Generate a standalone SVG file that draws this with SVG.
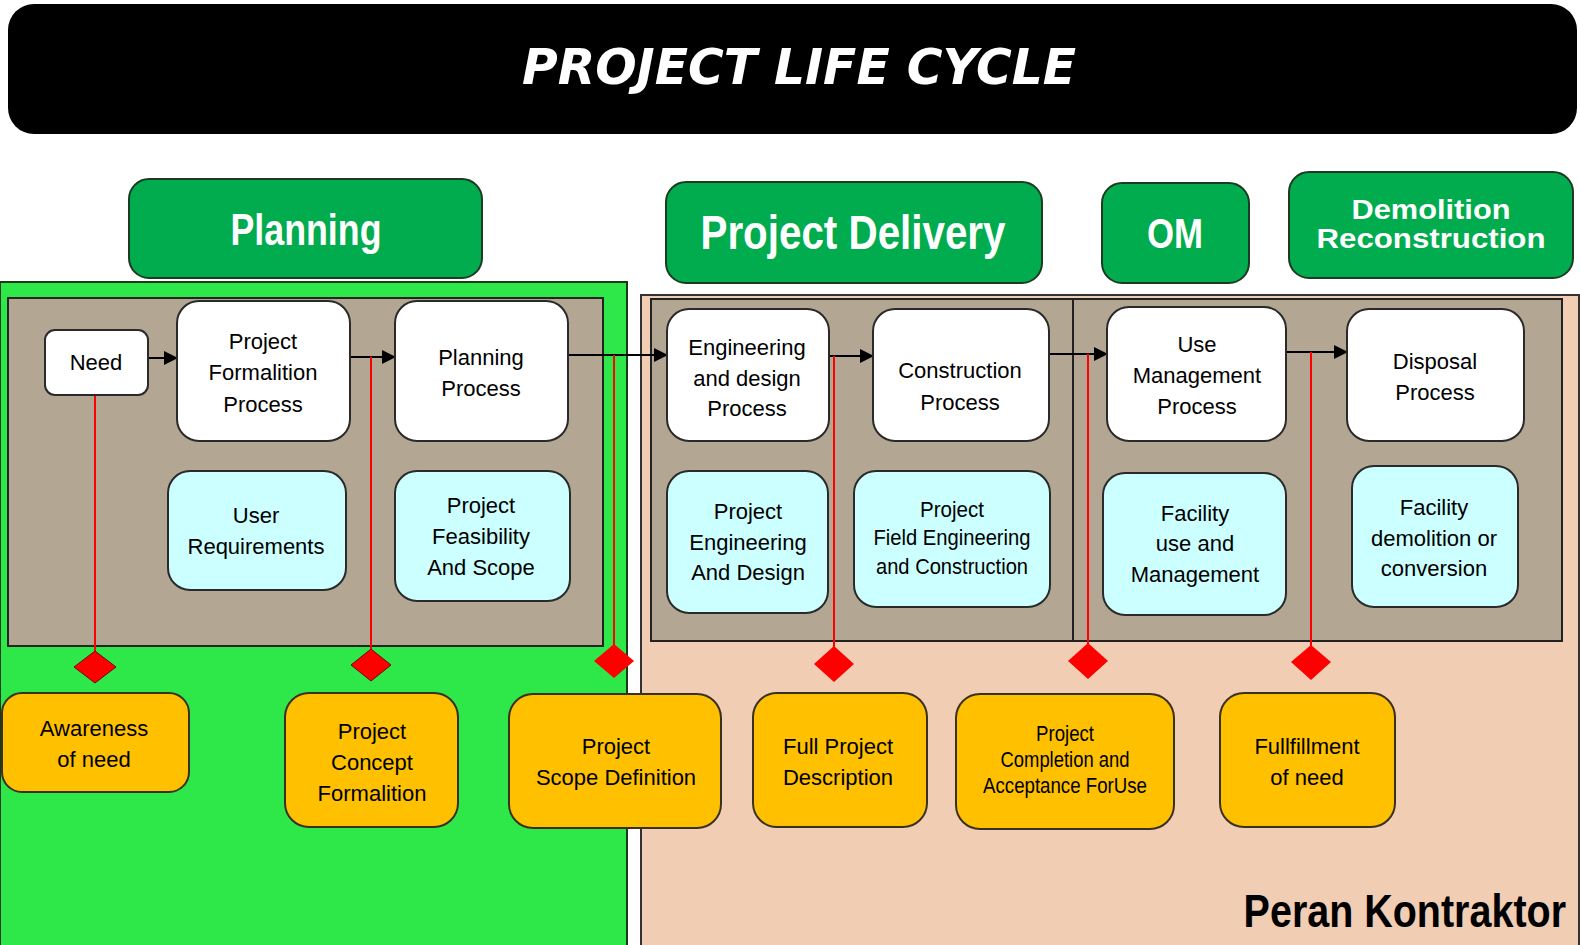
<svg xmlns="http://www.w3.org/2000/svg" width="1580" height="945" viewBox="0 0 1580 945">
<defs>
<style>
.hdr{fill:#00AC4E;stroke:#1d3a22;stroke-width:2}
.hdrt{fill:#ffffff;font-family:"Liberation Sans",Arial,sans-serif;font-weight:bold;text-anchor:middle}
.wn{fill:#ffffff;stroke:#2a2a2a;stroke-width:2}
.cn{fill:#CCFFFF;stroke:#2a2a2a;stroke-width:2}
.on{fill:#FFC000;stroke:#3a3020;stroke-width:2}
.t{font-family:"Liberation Sans",Arial,sans-serif;font-size:22px;fill:#000;text-anchor:middle}
.red{stroke:#FF0000;stroke-width:2;fill:none}
.blk{stroke:#000;stroke-width:2;fill:none}
.dia{fill:#FF0000}
</style>
<marker id="ah" viewBox="0 0 14 14" refX="13" refY="7" markerWidth="14" markerHeight="14" markerUnits="userSpaceOnUse" orient="auto">
<path d="M0,0 L14,7 L0,14 Z" fill="#000"/>
</marker>
</defs>
<rect width="1580" height="945" fill="#ffffff"/>

<!-- Title -->
<g id="title">
<rect x="8" y="4" width="1569" height="130" rx="26" fill="#000"/>
<text x="799" y="84" font-family="'DejaVu Sans',Verdana,sans-serif" font-weight="bold" font-style="italic" font-size="50" fill="#fff" text-anchor="middle" textLength="554" lengthAdjust="spacingAndGlyphs">PROJECT LIFE CYCLE</text>
</g>

<!-- Regions -->
<g id="region-planning">
<rect x="0" y="282" width="627" height="664" fill="#2EE84A" stroke="#1a3a1a" stroke-width="2"/>
<rect x="8" y="298" width="595" height="348" fill="#B3A793" stroke="#222" stroke-width="2"/>
</g>
<g id="region-contractor">
<rect x="641" y="295" width="938" height="651" fill="#F1CDB4" stroke="#333" stroke-width="2"/>
<rect x="651" y="299" width="911" height="342" fill="#B3A793" stroke="#222" stroke-width="2"/>
<line x1="1073" y1="299" x2="1073" y2="641" stroke="#222" stroke-width="2"/>
<text transform="translate(1566,927) scale(0.84,1)" x="0" y="0" font-family="'Liberation Sans',Arial,sans-serif" font-weight="bold" font-size="47" fill="#000" text-anchor="end">Peran Kontraktor</text>
</g>

<!-- Phase headers -->
<g id="hdr-planning">
<rect class="hdr" x="129" y="179" width="353" height="99" rx="20"/>
<text class="hdrt" x="306" y="245" font-size="44" textLength="151" lengthAdjust="spacingAndGlyphs">Planning</text>
</g>
<g id="hdr-delivery">
<rect class="hdr" x="666" y="182" width="376" height="101" rx="20"/>
<text class="hdrt" x="853" y="249" font-size="48" textLength="305" lengthAdjust="spacingAndGlyphs">Project Delivery</text>
</g>
<g id="hdr-om">
<rect class="hdr" x="1102" y="183" width="147" height="100" rx="20"/>
<text class="hdrt" x="1175" y="248" font-size="43" textLength="56" lengthAdjust="spacingAndGlyphs">OM</text>
</g>
<g id="hdr-demolition">
<rect class="hdr" x="1289" y="172" width="284" height="106" rx="20"/>
<text class="hdrt" x="1431" y="219" font-size="27" textLength="159" lengthAdjust="spacingAndGlyphs">Demolition</text>
<text class="hdrt" x="1431" y="248" font-size="27" textLength="229" lengthAdjust="spacingAndGlyphs">Reconstruction</text>
</g>

<!-- Connectors -->
<g id="connectors">
<line class="blk" x1="148" y1="358" x2="177" y2="358" marker-end="url(#ah)"/>
<line class="blk" x1="350" y1="357" x2="395" y2="357" marker-end="url(#ah)"/>
<line class="blk" x1="568" y1="355" x2="667" y2="355" marker-end="url(#ah)"/>
<line class="blk" x1="829" y1="356" x2="873" y2="356" marker-end="url(#ah)"/>
<line class="blk" x1="1049" y1="354" x2="1107" y2="354" marker-end="url(#ah)"/>
<line class="blk" x1="1278" y1="352" x2="1347" y2="352" marker-end="url(#ah)"/>
<line class="red" x1="95" y1="395" x2="95" y2="652"/>
<line class="red" x1="371" y1="357" x2="371" y2="650"/>
<line class="red" x1="614" y1="355" x2="614" y2="646"/>
<line class="red" x1="834" y1="356" x2="834" y2="648"/>
<line class="red" x1="1088" y1="354" x2="1088" y2="646"/>
<line class="red" x1="1311" y1="352" x2="1311" y2="646"/>
<polygon class="dia" points="95,651 116,667 95,683 74,667" stroke="#7a0000" stroke-width="1"/>
<polygon class="dia" points="371,649 391,665 371,681 351,665" stroke="#7a0000" stroke-width="1"/>
<polygon class="dia" points="614,644 634,661 614,678 594,661"/>
<polygon class="dia" points="834,646 854,664 834,682 814,664"/>
<polygon class="dia" points="1088,643 1108,661 1088,679 1068,661"/>
<polygon class="dia" points="1311,645 1331,662 1311,680 1291,662"/>
</g>

<!-- White process nodes -->
<g id="n-need">
<rect class="wn" x="45" y="330" width="103" height="65" rx="10"/>
<text class="t" x="96" y="370">Need</text>
</g>
<g id="n-formalition">
<rect class="wn" x="177" y="301" width="173" height="140" rx="22"/>
<text class="t" x="263" y="349">Project</text>
<text class="t" x="263" y="380">Formalition</text>
<text class="t" x="263" y="412">Process</text>
</g>
<g id="n-planning">
<rect class="wn" x="395" y="301" width="173" height="140" rx="22"/>
<text class="t" x="481" y="365">Planning</text>
<text class="t" x="481" y="396">Process</text>
</g>
<g id="n-engineering">
<rect class="wn" x="667" y="309" width="162" height="132" rx="22"/>
<text class="t" x="747" y="355">Engineering</text>
<text class="t" x="747" y="386">and design</text>
<text class="t" x="747" y="416">Process</text>
</g>
<g id="n-construction">
<rect class="wn" x="873" y="309" width="176" height="132" rx="22"/>
<text class="t" x="960" y="378">Construction</text>
<text class="t" x="960" y="410">Process</text>
</g>
<g id="n-use">
<rect class="wn" x="1107" y="307" width="179" height="134" rx="22"/>
<text class="t" x="1197" y="352">Use</text>
<text class="t" x="1197" y="383">Management</text>
<text class="t" x="1197" y="414">Process</text>
</g>
<g id="n-disposal">
<rect class="wn" x="1347" y="309" width="177" height="132" rx="22"/>
<text class="t" x="1435" y="369">Disposal</text>
<text class="t" x="1435" y="400">Process</text>
</g>

<!-- Cyan nodes -->
<g id="c-user">
<rect class="cn" x="168" y="471" width="178" height="119" rx="22"/>
<text class="t" x="256" y="523">User</text>
<text class="t" x="256" y="554">Requirements</text>
</g>
<g id="c-feasibility">
<rect class="cn" x="395" y="471" width="175" height="130" rx="22"/>
<text class="t" x="481" y="513">Project</text>
<text class="t" x="481" y="544">Feasibility</text>
<text class="t" x="481" y="575">And Scope</text>
</g>
<g id="c-engdesign">
<rect class="cn" x="667" y="471" width="161" height="142" rx="22"/>
<text class="t" x="748" y="519">Project</text>
<text class="t" x="748" y="550">Engineering</text>
<text class="t" x="748" y="580">And Design</text>
</g>
<g id="c-field">
<rect class="cn" x="854" y="471" width="196" height="136" rx="22"/>
<text class="t" x="952" y="517" font-size="20" textLength="64" lengthAdjust="spacingAndGlyphs">Project</text>
<text class="t" x="952" y="545" font-size="20" textLength="157" lengthAdjust="spacingAndGlyphs">Field Engineering</text>
<text class="t" x="952" y="574" font-size="20" textLength="152" lengthAdjust="spacingAndGlyphs">and Construction</text>
</g>
<g id="c-facilityuse">
<rect class="cn" x="1103" y="473" width="183" height="142" rx="22"/>
<text class="t" x="1195" y="521">Facility</text>
<text class="t" x="1195" y="551">use and</text>
<text class="t" x="1195" y="582">Management</text>
</g>
<g id="c-demolition">
<rect class="cn" x="1352" y="466" width="166" height="141" rx="22"/>
<text class="t" x="1434" y="515">Facility</text>
<text class="t" x="1434" y="546">demolition or</text>
<text class="t" x="1434" y="576">conversion</text>
</g>

<!-- Orange milestone nodes -->
<g id="o-awareness">
<rect class="on" x="2" y="693" width="187" height="99" rx="20"/>
<text class="t" x="94" y="736" font-size="21">Awareness</text>
<text class="t" x="94" y="767" font-size="21">of need</text>
</g>
<g id="o-concept">
<rect class="on" x="285" y="693" width="173" height="134" rx="24"/>
<text class="t" x="372" y="739">Project</text>
<text class="t" x="372" y="770">Concept</text>
<text class="t" x="372" y="801">Formalition</text>
</g>
<g id="o-scope">
<rect class="on" x="509" y="694" width="212" height="134" rx="24"/>
<text class="t" x="616" y="754">Project</text>
<text class="t" x="616" y="785">Scope Definition</text>
</g>
<g id="o-full">
<rect class="on" x="753" y="693" width="174" height="134" rx="24"/>
<text class="t" x="838" y="754">Full Project</text>
<text class="t" x="838" y="785">Description</text>
</g>
<g id="o-completion">
<rect class="on" x="956" y="694" width="218" height="135" rx="24"/>
<text class="t" x="1065" y="741" font-size="19" textLength="58" lengthAdjust="spacingAndGlyphs">Project</text>
<text class="t" x="1065" y="767" font-size="19" textLength="129" lengthAdjust="spacingAndGlyphs">Completion and</text>
<text class="t" x="1065" y="793" font-size="19" textLength="164" lengthAdjust="spacingAndGlyphs">Acceptance ForUse</text>
</g>
<g id="o-fulfillment">
<rect class="on" x="1220" y="693" width="175" height="134" rx="24"/>
<text class="t" x="1307" y="754">Fullfillment</text>
<text class="t" x="1307" y="785">of need</text>
</g>
</svg>
